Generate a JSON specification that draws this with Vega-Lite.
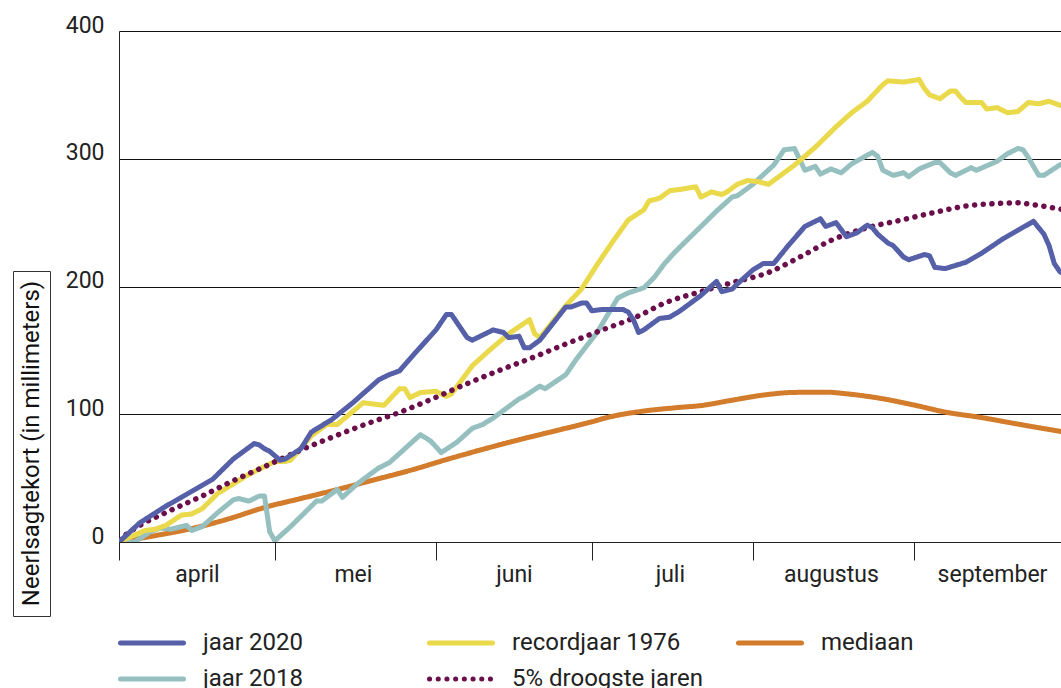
{
  "$schema": "https://vega.github.io/schema/vega-lite/v6.json",
  "background": "white",
  "padding": {"left": 12, "top": 14, "right": 0, "bottom": 0},
  "config": {"view": {"stroke": null}, "font": "Roboto"},
  "spacing": 14,
  "hconcat": [
    {
      "spacing": 0,
      "vconcat": [
        {
          "width": 37, "height": 238,
          "view": {"stroke": "transparent"},
          "data": {"values": [{"t": ""}]},
          "mark": {"type": "text"},
          "encoding": {"text": {"field": "t"}}
        },
        {
          "width": 37, "height": 345,
          "view": {"stroke": "#333333", "strokeWidth": 1},
          "data": {"values": [{"t": "Neerlsagtekort (in millimeters)"}]},
          "mark": {"type": "text", "angle": 270, "font": "Roboto", "fontSize": 24, "color": "#111111", "align": "center", "baseline": "middle"},
          "encoding": {"text": {"field": "t"}}
        }
      ]
    },
    {
      "width": 942,
      "height": 511,
      "data": {"values": [
        {"reeks": "jaar 2020", "dag": "2020-04-01", "mm": 0},
        {"reeks": "jaar 2020", "dag": "2020-04-05", "mm": 15},
        {"reeks": "jaar 2020", "dag": "2020-04-10", "mm": 28},
        {"reeks": "jaar 2020", "dag": "2020-04-13", "mm": 35},
        {"reeks": "jaar 2020", "dag": "2020-04-19", "mm": 49},
        {"reeks": "jaar 2020", "dag": "2020-04-23", "mm": 65},
        {"reeks": "jaar 2020", "dag": "2020-04-27", "mm": 77},
        {"reeks": "jaar 2020", "dag": "2020-04-28", "mm": 76},
        {"reeks": "jaar 2020", "dag": "2020-04-29", "mm": 73},
        {"reeks": "jaar 2020", "dag": "2020-04-30", "mm": 71},
        {"reeks": "jaar 2020", "dag": "2020-05-02", "mm": 64},
        {"reeks": "jaar 2020", "dag": "2020-05-03", "mm": 65},
        {"reeks": "jaar 2020", "dag": "2020-05-06", "mm": 73},
        {"reeks": "jaar 2020", "dag": "2020-05-08", "mm": 86},
        {"reeks": "jaar 2020", "dag": "2020-05-12", "mm": 96},
        {"reeks": "jaar 2020", "dag": "2020-05-16", "mm": 109},
        {"reeks": "jaar 2020", "dag": "2020-05-21", "mm": 127},
        {"reeks": "jaar 2020", "dag": "2020-05-23", "mm": 131},
        {"reeks": "jaar 2020", "dag": "2020-05-25", "mm": 134},
        {"reeks": "jaar 2020", "dag": "2020-05-28", "mm": 148},
        {"reeks": "jaar 2020", "dag": "2020-06-01", "mm": 166},
        {"reeks": "jaar 2020", "dag": "2020-06-03", "mm": 178},
        {"reeks": "jaar 2020", "dag": "2020-06-04", "mm": 178},
        {"reeks": "jaar 2020", "dag": "2020-06-07", "mm": 160},
        {"reeks": "jaar 2020", "dag": "2020-06-08", "mm": 158},
        {"reeks": "jaar 2020", "dag": "2020-06-11", "mm": 164},
        {"reeks": "jaar 2020", "dag": "2020-06-12", "mm": 166},
        {"reeks": "jaar 2020", "dag": "2020-06-13", "mm": 165},
        {"reeks": "jaar 2020", "dag": "2020-06-14", "mm": 164},
        {"reeks": "jaar 2020", "dag": "2020-06-15", "mm": 160},
        {"reeks": "jaar 2020", "dag": "2020-06-17", "mm": 161},
        {"reeks": "jaar 2020", "dag": "2020-06-18", "mm": 152},
        {"reeks": "jaar 2020", "dag": "2020-06-19", "mm": 152},
        {"reeks": "jaar 2020", "dag": "2020-06-21", "mm": 158},
        {"reeks": "jaar 2020", "dag": "2020-06-26", "mm": 184},
        {"reeks": "jaar 2020", "dag": "2020-06-27", "mm": 184},
        {"reeks": "jaar 2020", "dag": "2020-06-29", "mm": 187},
        {"reeks": "jaar 2020", "dag": "2020-06-30", "mm": 187},
        {"reeks": "jaar 2020", "dag": "2020-07-01", "mm": 181},
        {"reeks": "jaar 2020", "dag": "2020-07-03", "mm": 182},
        {"reeks": "jaar 2020", "dag": "2020-07-05", "mm": 182},
        {"reeks": "jaar 2020", "dag": "2020-07-07", "mm": 182},
        {"reeks": "jaar 2020", "dag": "2020-07-08", "mm": 180},
        {"reeks": "jaar 2020", "dag": "2020-07-09", "mm": 174},
        {"reeks": "jaar 2020", "dag": "2020-07-10", "mm": 164},
        {"reeks": "jaar 2020", "dag": "2020-07-11", "mm": 166},
        {"reeks": "jaar 2020", "dag": "2020-07-12", "mm": 169},
        {"reeks": "jaar 2020", "dag": "2020-07-14", "mm": 175},
        {"reeks": "jaar 2020", "dag": "2020-07-16", "mm": 176},
        {"reeks": "jaar 2020", "dag": "2020-07-18", "mm": 181},
        {"reeks": "jaar 2020", "dag": "2020-07-22", "mm": 193},
        {"reeks": "jaar 2020", "dag": "2020-07-25", "mm": 204},
        {"reeks": "jaar 2020", "dag": "2020-07-26", "mm": 196},
        {"reeks": "jaar 2020", "dag": "2020-07-28", "mm": 198},
        {"reeks": "jaar 2020", "dag": "2020-07-29", "mm": 202},
        {"reeks": "jaar 2020", "dag": "2020-08-01", "mm": 213},
        {"reeks": "jaar 2020", "dag": "2020-08-03", "mm": 218},
        {"reeks": "jaar 2020", "dag": "2020-08-05", "mm": 218},
        {"reeks": "jaar 2020", "dag": "2020-08-08", "mm": 233},
        {"reeks": "jaar 2020", "dag": "2020-08-11", "mm": 247},
        {"reeks": "jaar 2020", "dag": "2020-08-14", "mm": 253},
        {"reeks": "jaar 2020", "dag": "2020-08-15", "mm": 247},
        {"reeks": "jaar 2020", "dag": "2020-08-17", "mm": 250},
        {"reeks": "jaar 2020", "dag": "2020-08-19", "mm": 239},
        {"reeks": "jaar 2020", "dag": "2020-08-21", "mm": 242},
        {"reeks": "jaar 2020", "dag": "2020-08-23", "mm": 248},
        {"reeks": "jaar 2020", "dag": "2020-08-24", "mm": 246},
        {"reeks": "jaar 2020", "dag": "2020-08-25", "mm": 241},
        {"reeks": "jaar 2020", "dag": "2020-08-27", "mm": 234},
        {"reeks": "jaar 2020", "dag": "2020-08-28", "mm": 232},
        {"reeks": "jaar 2020", "dag": "2020-08-30", "mm": 223},
        {"reeks": "jaar 2020", "dag": "2020-08-31", "mm": 221},
        {"reeks": "jaar 2020", "dag": "2020-09-03", "mm": 225},
        {"reeks": "jaar 2020", "dag": "2020-09-04", "mm": 224},
        {"reeks": "jaar 2020", "dag": "2020-09-05", "mm": 215},
        {"reeks": "jaar 2020", "dag": "2020-09-07", "mm": 214},
        {"reeks": "jaar 2020", "dag": "2020-09-11", "mm": 219},
        {"reeks": "jaar 2020", "dag": "2020-09-14", "mm": 226},
        {"reeks": "jaar 2020", "dag": "2020-09-18", "mm": 237},
        {"reeks": "jaar 2020", "dag": "2020-09-21", "mm": 244},
        {"reeks": "jaar 2020", "dag": "2020-09-24", "mm": 251},
        {"reeks": "jaar 2020", "dag": "2020-09-25", "mm": 246},
        {"reeks": "jaar 2020", "dag": "2020-09-26", "mm": 241},
        {"reeks": "jaar 2020", "dag": "2020-09-27", "mm": 232},
        {"reeks": "jaar 2020", "dag": "2020-09-28", "mm": 218},
        {"reeks": "jaar 2020", "dag": "2020-09-29", "mm": 212},
        {"reeks": "jaar 2020", "dag": "2020-09-30", "mm": 209},

        {"reeks": "recordjaar 1976", "dag": "2020-04-01", "mm": 0},
        {"reeks": "recordjaar 1976", "dag": "2020-04-06", "mm": 9},
        {"reeks": "recordjaar 1976", "dag": "2020-04-08", "mm": 10},
        {"reeks": "recordjaar 1976", "dag": "2020-04-10", "mm": 13},
        {"reeks": "recordjaar 1976", "dag": "2020-04-13", "mm": 21},
        {"reeks": "recordjaar 1976", "dag": "2020-04-15", "mm": 22},
        {"reeks": "recordjaar 1976", "dag": "2020-04-17", "mm": 26},
        {"reeks": "recordjaar 1976", "dag": "2020-04-20", "mm": 38},
        {"reeks": "recordjaar 1976", "dag": "2020-04-26", "mm": 53},
        {"reeks": "recordjaar 1976", "dag": "2020-05-01", "mm": 63},
        {"reeks": "recordjaar 1976", "dag": "2020-05-03", "mm": 63},
        {"reeks": "recordjaar 1976", "dag": "2020-05-04", "mm": 64},
        {"reeks": "recordjaar 1976", "dag": "2020-05-08", "mm": 83},
        {"reeks": "recordjaar 1976", "dag": "2020-05-11", "mm": 92},
        {"reeks": "recordjaar 1976", "dag": "2020-05-13", "mm": 92},
        {"reeks": "recordjaar 1976", "dag": "2020-05-18", "mm": 109},
        {"reeks": "recordjaar 1976", "dag": "2020-05-22", "mm": 107},
        {"reeks": "recordjaar 1976", "dag": "2020-05-25", "mm": 120},
        {"reeks": "recordjaar 1976", "dag": "2020-05-26", "mm": 120},
        {"reeks": "recordjaar 1976", "dag": "2020-05-27", "mm": 113},
        {"reeks": "recordjaar 1976", "dag": "2020-05-29", "mm": 117},
        {"reeks": "recordjaar 1976", "dag": "2020-06-01", "mm": 118},
        {"reeks": "recordjaar 1976", "dag": "2020-06-03", "mm": 114},
        {"reeks": "recordjaar 1976", "dag": "2020-06-04", "mm": 116},
        {"reeks": "recordjaar 1976", "dag": "2020-06-08", "mm": 138},
        {"reeks": "recordjaar 1976", "dag": "2020-06-11", "mm": 149},
        {"reeks": "recordjaar 1976", "dag": "2020-06-15", "mm": 163},
        {"reeks": "recordjaar 1976", "dag": "2020-06-19", "mm": 174},
        {"reeks": "recordjaar 1976", "dag": "2020-06-20", "mm": 163},
        {"reeks": "recordjaar 1976", "dag": "2020-06-21", "mm": 160},
        {"reeks": "recordjaar 1976", "dag": "2020-06-26", "mm": 185},
        {"reeks": "recordjaar 1976", "dag": "2020-06-29", "mm": 198},
        {"reeks": "recordjaar 1976", "dag": "2020-07-02", "mm": 217},
        {"reeks": "recordjaar 1976", "dag": "2020-07-05", "mm": 235},
        {"reeks": "recordjaar 1976", "dag": "2020-07-08", "mm": 252},
        {"reeks": "recordjaar 1976", "dag": "2020-07-11", "mm": 260},
        {"reeks": "recordjaar 1976", "dag": "2020-07-12", "mm": 267},
        {"reeks": "recordjaar 1976", "dag": "2020-07-14", "mm": 269},
        {"reeks": "recordjaar 1976", "dag": "2020-07-16", "mm": 275},
        {"reeks": "recordjaar 1976", "dag": "2020-07-18", "mm": 276},
        {"reeks": "recordjaar 1976", "dag": "2020-07-21", "mm": 278},
        {"reeks": "recordjaar 1976", "dag": "2020-07-22", "mm": 270},
        {"reeks": "recordjaar 1976", "dag": "2020-07-24", "mm": 274},
        {"reeks": "recordjaar 1976", "dag": "2020-07-26", "mm": 272},
        {"reeks": "recordjaar 1976", "dag": "2020-07-27", "mm": 274},
        {"reeks": "recordjaar 1976", "dag": "2020-07-29", "mm": 280},
        {"reeks": "recordjaar 1976", "dag": "2020-07-31", "mm": 283},
        {"reeks": "recordjaar 1976", "dag": "2020-08-02", "mm": 282},
        {"reeks": "recordjaar 1976", "dag": "2020-08-04", "mm": 280},
        {"reeks": "recordjaar 1976", "dag": "2020-08-06", "mm": 286},
        {"reeks": "recordjaar 1976", "dag": "2020-08-09", "mm": 295},
        {"reeks": "recordjaar 1976", "dag": "2020-08-13", "mm": 309},
        {"reeks": "recordjaar 1976", "dag": "2020-08-17", "mm": 325},
        {"reeks": "recordjaar 1976", "dag": "2020-08-20", "mm": 336},
        {"reeks": "recordjaar 1976", "dag": "2020-08-23", "mm": 345},
        {"reeks": "recordjaar 1976", "dag": "2020-08-26", "mm": 358},
        {"reeks": "recordjaar 1976", "dag": "2020-08-27", "mm": 361},
        {"reeks": "recordjaar 1976", "dag": "2020-08-30", "mm": 360},
        {"reeks": "recordjaar 1976", "dag": "2020-09-02", "mm": 362},
        {"reeks": "recordjaar 1976", "dag": "2020-09-03", "mm": 355},
        {"reeks": "recordjaar 1976", "dag": "2020-09-04", "mm": 350},
        {"reeks": "recordjaar 1976", "dag": "2020-09-06", "mm": 347},
        {"reeks": "recordjaar 1976", "dag": "2020-09-08", "mm": 353},
        {"reeks": "recordjaar 1976", "dag": "2020-09-09", "mm": 353},
        {"reeks": "recordjaar 1976", "dag": "2020-09-10", "mm": 348},
        {"reeks": "recordjaar 1976", "dag": "2020-09-11", "mm": 344},
        {"reeks": "recordjaar 1976", "dag": "2020-09-14", "mm": 344},
        {"reeks": "recordjaar 1976", "dag": "2020-09-15", "mm": 339},
        {"reeks": "recordjaar 1976", "dag": "2020-09-17", "mm": 340},
        {"reeks": "recordjaar 1976", "dag": "2020-09-19", "mm": 336},
        {"reeks": "recordjaar 1976", "dag": "2020-09-21", "mm": 337},
        {"reeks": "recordjaar 1976", "dag": "2020-09-23", "mm": 344},
        {"reeks": "recordjaar 1976", "dag": "2020-09-25", "mm": 343},
        {"reeks": "recordjaar 1976", "dag": "2020-09-27", "mm": 345},
        {"reeks": "recordjaar 1976", "dag": "2020-09-29", "mm": 342},
        {"reeks": "recordjaar 1976", "dag": "2020-09-30", "mm": 341},

        {"reeks": "jaar 2018", "dag": "2020-04-01", "mm": 0},
        {"reeks": "jaar 2018", "dag": "2020-04-04", "mm": 0},
        {"reeks": "jaar 2018", "dag": "2020-04-07", "mm": 8},
        {"reeks": "jaar 2018", "dag": "2020-04-09", "mm": 11},
        {"reeks": "jaar 2018", "dag": "2020-04-11", "mm": 10},
        {"reeks": "jaar 2018", "dag": "2020-04-14", "mm": 13},
        {"reeks": "jaar 2018", "dag": "2020-04-15", "mm": 9},
        {"reeks": "jaar 2018", "dag": "2020-04-17", "mm": 12},
        {"reeks": "jaar 2018", "dag": "2020-04-20", "mm": 23},
        {"reeks": "jaar 2018", "dag": "2020-04-23", "mm": 33},
        {"reeks": "jaar 2018", "dag": "2020-04-24", "mm": 34},
        {"reeks": "jaar 2018", "dag": "2020-04-26", "mm": 32},
        {"reeks": "jaar 2018", "dag": "2020-04-28", "mm": 36},
        {"reeks": "jaar 2018", "dag": "2020-04-29", "mm": 36},
        {"reeks": "jaar 2018", "dag": "2020-04-30", "mm": 8},
        {"reeks": "jaar 2018", "dag": "2020-05-01", "mm": 1},
        {"reeks": "jaar 2018", "dag": "2020-05-04", "mm": 12},
        {"reeks": "jaar 2018", "dag": "2020-05-09", "mm": 32},
        {"reeks": "jaar 2018", "dag": "2020-05-10", "mm": 32},
        {"reeks": "jaar 2018", "dag": "2020-05-13", "mm": 41},
        {"reeks": "jaar 2018", "dag": "2020-05-14", "mm": 35},
        {"reeks": "jaar 2018", "dag": "2020-05-17", "mm": 46},
        {"reeks": "jaar 2018", "dag": "2020-05-21", "mm": 58},
        {"reeks": "jaar 2018", "dag": "2020-05-23", "mm": 62},
        {"reeks": "jaar 2018", "dag": "2020-05-29", "mm": 84},
        {"reeks": "jaar 2018", "dag": "2020-05-31", "mm": 79},
        {"reeks": "jaar 2018", "dag": "2020-06-02", "mm": 70},
        {"reeks": "jaar 2018", "dag": "2020-06-05", "mm": 78},
        {"reeks": "jaar 2018", "dag": "2020-06-08", "mm": 89},
        {"reeks": "jaar 2018", "dag": "2020-06-10", "mm": 92},
        {"reeks": "jaar 2018", "dag": "2020-06-12", "mm": 97},
        {"reeks": "jaar 2018", "dag": "2020-06-17", "mm": 112},
        {"reeks": "jaar 2018", "dag": "2020-06-18", "mm": 114},
        {"reeks": "jaar 2018", "dag": "2020-06-21", "mm": 122},
        {"reeks": "jaar 2018", "dag": "2020-06-22", "mm": 120},
        {"reeks": "jaar 2018", "dag": "2020-06-26", "mm": 131},
        {"reeks": "jaar 2018", "dag": "2020-06-28", "mm": 143},
        {"reeks": "jaar 2018", "dag": "2020-07-02", "mm": 164},
        {"reeks": "jaar 2018", "dag": "2020-07-06", "mm": 191},
        {"reeks": "jaar 2018", "dag": "2020-07-08", "mm": 195},
        {"reeks": "jaar 2018", "dag": "2020-07-11", "mm": 199},
        {"reeks": "jaar 2018", "dag": "2020-07-13", "mm": 207},
        {"reeks": "jaar 2018", "dag": "2020-07-15", "mm": 218},
        {"reeks": "jaar 2018", "dag": "2020-07-17", "mm": 227},
        {"reeks": "jaar 2018", "dag": "2020-07-18", "mm": 231},
        {"reeks": "jaar 2018", "dag": "2020-07-22", "mm": 247},
        {"reeks": "jaar 2018", "dag": "2020-07-25", "mm": 259},
        {"reeks": "jaar 2018", "dag": "2020-07-28", "mm": 270},
        {"reeks": "jaar 2018", "dag": "2020-07-29", "mm": 271},
        {"reeks": "jaar 2018", "dag": "2020-08-01", "mm": 280},
        {"reeks": "jaar 2018", "dag": "2020-08-05", "mm": 295},
        {"reeks": "jaar 2018", "dag": "2020-08-07", "mm": 307},
        {"reeks": "jaar 2018", "dag": "2020-08-09", "mm": 308},
        {"reeks": "jaar 2018", "dag": "2020-08-11", "mm": 291},
        {"reeks": "jaar 2018", "dag": "2020-08-13", "mm": 294},
        {"reeks": "jaar 2018", "dag": "2020-08-14", "mm": 288},
        {"reeks": "jaar 2018", "dag": "2020-08-16", "mm": 292},
        {"reeks": "jaar 2018", "dag": "2020-08-18", "mm": 289},
        {"reeks": "jaar 2018", "dag": "2020-08-20", "mm": 296},
        {"reeks": "jaar 2018", "dag": "2020-08-24", "mm": 305},
        {"reeks": "jaar 2018", "dag": "2020-08-25", "mm": 302},
        {"reeks": "jaar 2018", "dag": "2020-08-26", "mm": 291},
        {"reeks": "jaar 2018", "dag": "2020-08-28", "mm": 287},
        {"reeks": "jaar 2018", "dag": "2020-08-30", "mm": 289},
        {"reeks": "jaar 2018", "dag": "2020-08-31", "mm": 286},
        {"reeks": "jaar 2018", "dag": "2020-09-02", "mm": 292},
        {"reeks": "jaar 2018", "dag": "2020-09-05", "mm": 297},
        {"reeks": "jaar 2018", "dag": "2020-09-06", "mm": 297},
        {"reeks": "jaar 2018", "dag": "2020-09-08", "mm": 289},
        {"reeks": "jaar 2018", "dag": "2020-09-09", "mm": 287},
        {"reeks": "jaar 2018", "dag": "2020-09-12", "mm": 293},
        {"reeks": "jaar 2018", "dag": "2020-09-13", "mm": 291},
        {"reeks": "jaar 2018", "dag": "2020-09-17", "mm": 298},
        {"reeks": "jaar 2018", "dag": "2020-09-19", "mm": 304},
        {"reeks": "jaar 2018", "dag": "2020-09-21", "mm": 308},
        {"reeks": "jaar 2018", "dag": "2020-09-22", "mm": 307},
        {"reeks": "jaar 2018", "dag": "2020-09-23", "mm": 301},
        {"reeks": "jaar 2018", "dag": "2020-09-25", "mm": 287},
        {"reeks": "jaar 2018", "dag": "2020-09-26", "mm": 287},
        {"reeks": "jaar 2018", "dag": "2020-09-29", "mm": 295},
        {"reeks": "jaar 2018", "dag": "2020-09-30", "mm": 297},

        {"reeks": "5% droogste jaren", "dag": "2020-04-01", "mm": 2},
        {"reeks": "5% droogste jaren", "dag": "2020-04-05", "mm": 13},
        {"reeks": "5% droogste jaren", "dag": "2020-04-10", "mm": 23},
        {"reeks": "5% droogste jaren", "dag": "2020-04-17", "mm": 36},
        {"reeks": "5% droogste jaren", "dag": "2020-04-23", "mm": 48},
        {"reeks": "5% droogste jaren", "dag": "2020-04-29", "mm": 59},
        {"reeks": "5% droogste jaren", "dag": "2020-05-06", "mm": 72},
        {"reeks": "5% droogste jaren", "dag": "2020-05-12", "mm": 82},
        {"reeks": "5% droogste jaren", "dag": "2020-05-19", "mm": 93},
        {"reeks": "5% droogste jaren", "dag": "2020-05-25", "mm": 101.5},
        {"reeks": "5% droogste jaren", "dag": "2020-05-31", "mm": 111.5},
        {"reeks": "5% droogste jaren", "dag": "2020-06-07", "mm": 124},
        {"reeks": "5% droogste jaren", "dag": "2020-06-13", "mm": 134},
        {"reeks": "5% droogste jaren", "dag": "2020-06-20", "mm": 145},
        {"reeks": "5% droogste jaren", "dag": "2020-06-26", "mm": 155},
        {"reeks": "5% droogste jaren", "dag": "2020-07-03", "mm": 166},
        {"reeks": "5% droogste jaren", "dag": "2020-07-10", "mm": 177},
        {"reeks": "5% droogste jaren", "dag": "2020-07-15", "mm": 187},
        {"reeks": "5% droogste jaren", "dag": "2020-07-22", "mm": 196},
        {"reeks": "5% droogste jaren", "dag": "2020-07-28", "mm": 203},
        {"reeks": "5% droogste jaren", "dag": "2020-08-04", "mm": 211},
        {"reeks": "5% droogste jaren", "dag": "2020-08-10", "mm": 223},
        {"reeks": "5% droogste jaren", "dag": "2020-08-16", "mm": 236},
        {"reeks": "5% droogste jaren", "dag": "2020-08-23", "mm": 246},
        {"reeks": "5% droogste jaren", "dag": "2020-08-29", "mm": 251.5},
        {"reeks": "5% droogste jaren", "dag": "2020-09-05", "mm": 258},
        {"reeks": "5% droogste jaren", "dag": "2020-09-11", "mm": 263},
        {"reeks": "5% droogste jaren", "dag": "2020-09-17", "mm": 265},
        {"reeks": "5% droogste jaren", "dag": "2020-09-21", "mm": 265.5},
        {"reeks": "5% droogste jaren", "dag": "2020-09-24", "mm": 264},
        {"reeks": "5% droogste jaren", "dag": "2020-09-30", "mm": 260},

        {"reeks": "mediaan", "dag": "2020-04-01", "mm": 0},
        {"reeks": "mediaan", "dag": "2020-04-08", "mm": 5},
        {"reeks": "mediaan", "dag": "2020-04-15", "mm": 10.5},
        {"reeks": "mediaan", "dag": "2020-04-22", "mm": 18},
        {"reeks": "mediaan", "dag": "2020-04-29", "mm": 27},
        {"reeks": "mediaan", "dag": "2020-05-06", "mm": 34},
        {"reeks": "mediaan", "dag": "2020-05-13", "mm": 41},
        {"reeks": "mediaan", "dag": "2020-05-20", "mm": 48.5},
        {"reeks": "mediaan", "dag": "2020-05-27", "mm": 56},
        {"reeks": "mediaan", "dag": "2020-06-03", "mm": 64.5},
        {"reeks": "mediaan", "dag": "2020-06-10", "mm": 72.5},
        {"reeks": "mediaan", "dag": "2020-06-17", "mm": 80},
        {"reeks": "mediaan", "dag": "2020-06-24", "mm": 87},
        {"reeks": "mediaan", "dag": "2020-06-30", "mm": 93},
        {"reeks": "mediaan", "dag": "2020-07-05", "mm": 98.4},
        {"reeks": "mediaan", "dag": "2020-07-11", "mm": 102.5},
        {"reeks": "mediaan", "dag": "2020-07-18", "mm": 105.4},
        {"reeks": "mediaan", "dag": "2020-07-22", "mm": 106.8},
        {"reeks": "mediaan", "dag": "2020-07-28", "mm": 111},
        {"reeks": "mediaan", "dag": "2020-08-03", "mm": 115},
        {"reeks": "mediaan", "dag": "2020-08-09", "mm": 117.1},
        {"reeks": "mediaan", "dag": "2020-08-15", "mm": 117.3},
        {"reeks": "mediaan", "dag": "2020-08-19", "mm": 116},
        {"reeks": "mediaan", "dag": "2020-08-25", "mm": 112.8},
        {"reeks": "mediaan", "dag": "2020-09-01", "mm": 107.2},
        {"reeks": "mediaan", "dag": "2020-09-07", "mm": 101.7},
        {"reeks": "mediaan", "dag": "2020-09-14", "mm": 97.4},
        {"reeks": "mediaan", "dag": "2020-09-20", "mm": 93},
        {"reeks": "mediaan", "dag": "2020-09-30", "mm": 86}
      ]},
      "encoding": {
        "x": {
          "field": "dag", "type": "temporal",
          "scale": {"type": "utc", "nice": false, "domain": [
            {"year": 2020, "month": 4, "date": 1, "utc": true},
            {"year": 2020, "month": 9, "date": 29, "hours": 7, "utc": true}
          ]},
          "axis": {
            "title": null,
            "values": [
              {"year": 2020, "month": 4, "date": 1, "utc": true},
              {"year": 2020, "month": 5, "date": 1, "utc": true},
              {"year": 2020, "month": 6, "date": 1, "utc": true},
              {"year": 2020, "month": 7, "date": 1, "utc": true},
              {"year": 2020, "month": 8, "date": 1, "utc": true},
              {"year": 2020, "month": 9, "date": 1, "utc": true}
            ],
            "labelExpr": "['januari','februari','maart','april','mei','juni','juli','augustus','september','oktober','november','december'][utcmonth(datum.value)]",
            "labelOffset": 78,
            "labelFlush": false,
            "labelOverlap": false,
            "labelFont": "Roboto",
            "labelFontSize": 23,
            "labelColor": "#222222",
            "labelPadding": 3,
            "labelBaseline": "top",
            "tickSize": 18,
            "tickColor": "#222222",
            "tickWidth": 1,
            "domainColor": "#222222",
            "domainWidth": 1,
            "grid": false
          }
        },
        "y": {
          "field": "mm", "type": "quantitative",
          "scale": {"domain": [0, 400], "nice": false},
          "axis": {
            "title": null,
            "values": [0, 100, 200, 300, 400],
            "grid": true,
            "gridColor": "#111111",
            "gridWidth": 1,
            "gridOpacity": 1,
            "ticks": false,
            "domain": true,
            "domainColor": "#222222",
            "labelFont": "Roboto",
            "labelFontSize": 23,
            "labelColor": "#222222",
            "labelPadding": 15,
            "labelBaseline": "alphabetic",
            "labelOffset": 1
          }
        },
        "color": {
          "field": "reeks", "type": "nominal",
          "scale": {
            "domain": ["jaar 2020", "recordjaar 1976", "mediaan", "jaar 2018", "5% droogste jaren"],
            "range": ["#5560A8", "#E9D94B", "#D27C2C", "#95C0BF", "#6B0F4B"]
          },
          "legend": {
            "title": null, "orient": "none", "legendX": 126, "legendY": 599,
            "direction": "horizontal", "columns": 3, "gridAlign": "all",
            "columnPadding": 25, "rowPadding": 11, "padding": 0,
            "symbolType": "M-3,0H3", "symbolSize": 441, "symbolStrokeWidth": 5,
            "labelFont": "Roboto", "labelFontSize": 24, "labelColor": "#222222",
            "labelOffset": 38, "labelLimit": 400,
            "encode": {"symbols": {"update": {"strokeCap": {"value": "round"}}}}
          }
        },
        "strokeDash": {
          "field": "reeks", "type": "nominal",
          "scale": {
            "domain": ["jaar 2020", "recordjaar 1976", "mediaan", "jaar 2018", "5% droogste jaren"],
            "range": [[1, 0], [1, 0], [1, 0], [1, 0], [0.1, 8.6]]
          },
          "legend": {
            "title": null, "orient": "none", "legendX": 126, "legendY": 599,
            "direction": "horizontal", "columns": 3, "gridAlign": "all",
            "columnPadding": 25, "rowPadding": 11, "padding": 0,
            "symbolType": "M-3,0H3", "symbolSize": 441, "symbolStrokeWidth": 5,
            "labelFont": "Roboto", "labelFontSize": 24, "labelColor": "#222222",
            "labelOffset": 38, "labelLimit": 400,
            "encode": {"symbols": {"update": {"strokeCap": {"value": "round"}}}}
          }
        }
      },
      "layer": [
        {"transform": [{"filter": "datum.reeks === 'mediaan'"}],
         "mark": {"type": "line", "interpolate": "monotone", "strokeWidth": 5, "clip": true, "strokeCap": "round"}},
        {"transform": [{"filter": "datum.reeks === 'jaar 2018'"}],
         "mark": {"type": "line", "strokeWidth": 5, "clip": true, "strokeCap": "round", "strokeJoin": "round"}},
        {"transform": [{"filter": "datum.reeks === 'recordjaar 1976'"}],
         "mark": {"type": "line", "strokeWidth": 5, "clip": true, "strokeCap": "round", "strokeJoin": "round"}},
        {"transform": [{"filter": "datum.reeks === '5% droogste jaren'"}],
         "mark": {"type": "line", "interpolate": "monotone", "strokeWidth": 5.5, "clip": true, "strokeCap": "round"}},
        {"transform": [{"filter": "datum.reeks === 'jaar 2020'"}],
         "mark": {"type": "line", "strokeWidth": 5, "clip": true, "strokeCap": "round", "strokeJoin": "round"}}
      ]
    }
  ]
}
